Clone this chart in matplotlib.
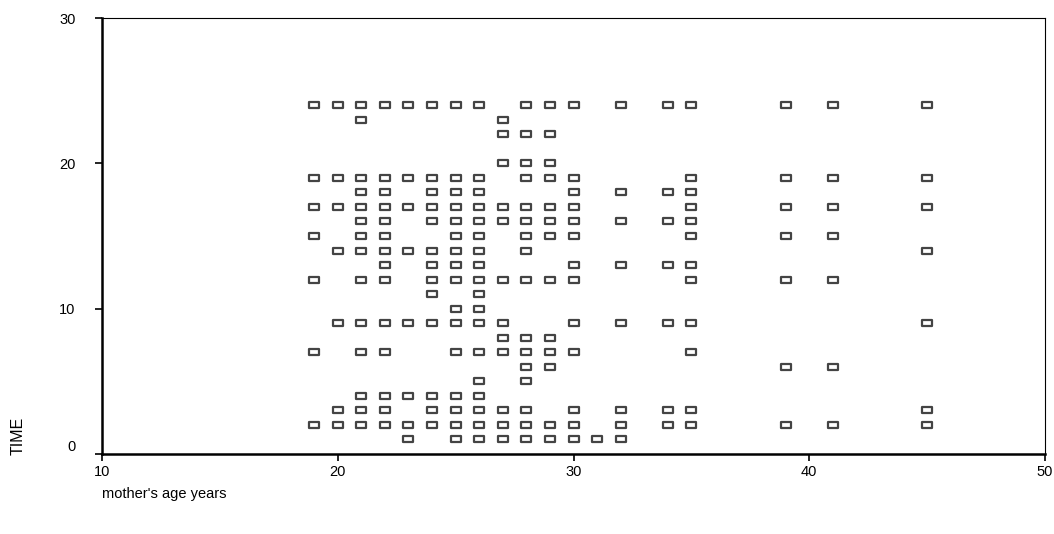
import numpy as np
import matplotlib
matplotlib.use("Agg")
import matplotlib.pyplot as plt
from matplotlib.path import Path

plt.rcParams['font.family'] = ['Liberation Sans', 'DejaVu Sans']

# times observed for each mother's age
ages = [19, 20, 21, 22, 23, 24, 25, 26, 27, 28, 29, 30, 31, 32, 34, 35, 39, 41, 45]
times = [
    [24, 19, 17, 15, 12, 7, 2],
    [24, 19, 17, 14, 9, 3, 2],
    [24, 23, 19, 18, 17, 16, 15, 14, 12, 9, 7, 4, 3, 2],
    [24, 19, 18, 17, 16, 15, 14, 13, 12, 9, 7, 4, 3, 2],
    [24, 19, 17, 14, 9, 4, 2, 1],
    [24, 19, 18, 17, 16, 14, 13, 12, 11, 9, 4, 3, 2],
    [24, 19, 18, 17, 16, 15, 14, 13, 12, 10, 9, 7, 4, 3, 2, 1],
    [24, 19, 18, 17, 16, 15, 14, 13, 12, 11, 10, 9, 7, 5, 4, 3, 2, 1],
    [23, 22, 20, 17, 16, 12, 9, 8, 7, 3, 2, 1],
    [24, 22, 20, 19, 17, 16, 15, 14, 12, 8, 7, 6, 5, 3, 2, 1],
    [24, 22, 20, 19, 17, 16, 15, 12, 8, 7, 6, 2, 1],
    [24, 19, 18, 17, 16, 15, 13, 12, 9, 7, 3, 2, 1],
    [1],
    [24, 18, 16, 13, 9, 3, 2, 1],
    [24, 18, 16, 13, 9, 3, 2],
    [24, 19, 18, 17, 16, 15, 13, 12, 9, 7, 3, 2],
    [24, 19, 17, 15, 12, 6, 2],
    [24, 19, 17, 15, 12, 6, 2],
    [24, 19, 17, 14, 9, 3, 2],
]
xticks = [10, 20, 30, 40, 50]
yticks = [0, 10, 20, 30]

x = []
y = []
for a, ts in zip(ages, times):
    for t in ts:
        x.append(a)
        y.append(t)

# flat rectangle marker
rect = Path([(-1, -0.55), (1, -0.55), (1, 0.55), (-1, 0.55), (-1, -0.55)],
            [Path.MOVETO, Path.LINETO, Path.LINETO, Path.LINETO, Path.CLOSEPOLY])

fig = plt.figure(figsize=(10.54, 5.34), dpi=100)
ax = fig.add_axes([102/1054, 80/534, 943/1054, 436/534])
ax.plot(x, y, linestyle='none', marker=rect, markersize=7.2,
        markerfacecolor='white', markeredgecolor='#444444', markeredgewidth=1.6)

ax.set_xlim(10, 50)
ax.set_ylim(0, 30)
ax.set_xticks(xticks)
ax.set_yticks(yticks)
ax.tick_params(axis='both', direction='out', length=5, width=1.2, labelsize=10.5, colors='black')
ax.tick_params(axis='y', pad=14)
ax.tick_params(axis='x', pad=3)
ax.get_yticklabels()[0].set_verticalalignment('bottom')

ax.spines['left'].set_linewidth(1.8)
ax.spines['bottom'].set_linewidth(1.8)
ax.spines['top'].set_linewidth(0.8)
ax.spines['right'].set_linewidth(0.8)

fig.text(18/1054, 1 - 436/534, 'TIME', rotation=90, ha='center', va='center', fontsize=11.5)
fig.text(102/1054, 1 - 494/534, "mother's age years", ha='left', va='center', fontsize=10.5)

fig.savefig('out.png', dpi=100)
